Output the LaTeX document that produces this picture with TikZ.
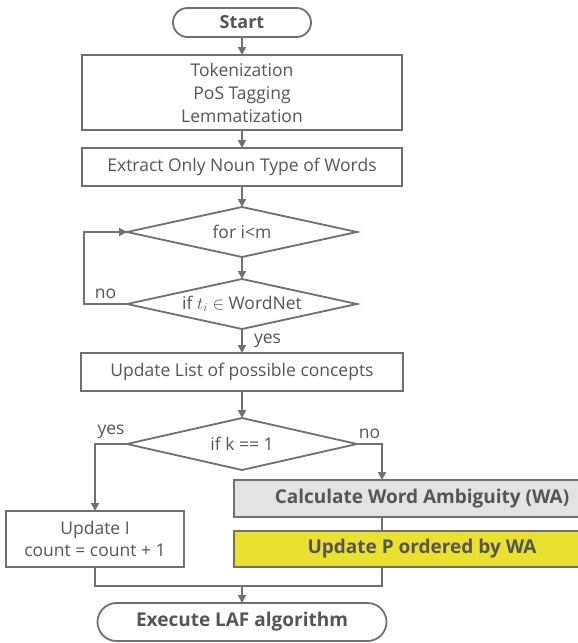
\documentclass[tikz,border=0pt]{standalone}
\usepackage{fontspec}
\setmainfont{Open Sans}
\usepackage{tikz}
\usetikzlibrary{
    positioning,
    shapes.geometric,
    shapes.misc,
    arrows.meta
}
\definecolor{linegray}{HTML}{707070}
\definecolor{textgray}{HTML}{555555}
\definecolor{boxgray}{HTML}{E3E3E3}
\definecolor{boxyellow}{HTML}{EAE030}

\begin{document}
\begin{tikzpicture}[x=1pt,y=1pt,->,>={Triangle[length=8pt,width=8pt]},
line width=1.8pt,draw=linegray,color=linegray,
font=\fontsize{17.5}{23}\selectfont,
every node/.style={text=textgray,outer sep=0pt,inner sep=0pt},
term node/.style={rounded rectangle,draw,font=\fontsize{19}{23}\selectfont\bfseries},
proc node/.style={rectangle,draw,fill=white,align=center},
decide node/.style={diamond,draw,fill=white,minimum width=230pt,minimum height=50pt,aspect=4.6},
calc node/.style={rectangle,draw,fill=boxgray,font=\fontsize{19}{23}\selectfont\bfseries},
sort node/.style={rectangle,draw,fill=boxyellow,font=\fontsize{19}{23}\selectfont\bfseries}]

\useasboundingbox (0,0) rectangle (578,-643);
\clip (0,0) rectangle (578,-643);

%Main column
\node[term node,minimum width=138pt,minimum height=29pt,font=\fontsize{18}{23}\selectfont\bfseries] (start) at (242,-22.5) {Start};
\node[proc node,minimum width=320pt,minimum height=75pt] (prep) [below=18pt of start] {Tokenization\\PoS Tagging\\Lemmatization};
\node[proc node,minimum width=320pt,minimum height=38pt] (noun) [below=18pt of prep] {Extract Only Noun Type of Words};
\node[decide node] (loop) [below=21pt of noun] {for i<m};
\node[decide node] (inwn) [below=22pt of loop] {if $t_i \in$ WordNet};
\node[proc node,minimum width=322pt,minimum height=38pt] (upd) [below=24pt of inwn] {Update List of possible concepts};
\node[decide node,minimum height=52pt] (kone) [below=27pt of upd] {if k == 1};

%Branches
\node[proc node,minimum width=178pt,minimum height=56pt,font=\fontsize{17.5}{22}\selectfont] (cnt) at (95,-539) {Update I\\count = count + 1};
\node[calc node,minimum width=376pt,minimum height=37pt] (wa) at (422,-498.5) {Calculate Word Ambiguity (WA)};
\node[sort node,minimum width=376pt,minimum height=36pt] (ord) at (422,-549) {Update P ordered by WA};

%End
\node[term node,minimum width=289pt,minimum height=38pt] (laf) at (242,-622) {Execute LAF algorithm};

\coordinate (wain) at (382,-480);
\coordinate (join) at (242,-586);

%Paths
\path
(start) edge (prep)
(prep)  edge (noun)
(noun)  edge (loop)
(loop)  edge (inwn)
(inwn)  edge node [right=12pt] {yes} (upd)
(upd)   edge (kone)
;
\draw (inwn.west) -- node [above=5pt] {no} ++(-43,0) |- (loop.west);
\draw (kone.west) -| node [pos=0.25,above=5pt] {yes} (cnt.north);
\draw (kone.east) -| node [pos=0.25,above=5pt] {no} (wain);
\draw[-] (wain |- wa.south) -- (wain |- ord.north);
\draw[-] (cnt.south) |- (join);
\draw[-] (wain |- ord.south) |- (join);
\draw (join) -- (laf);
\end{tikzpicture}
\end{document}
